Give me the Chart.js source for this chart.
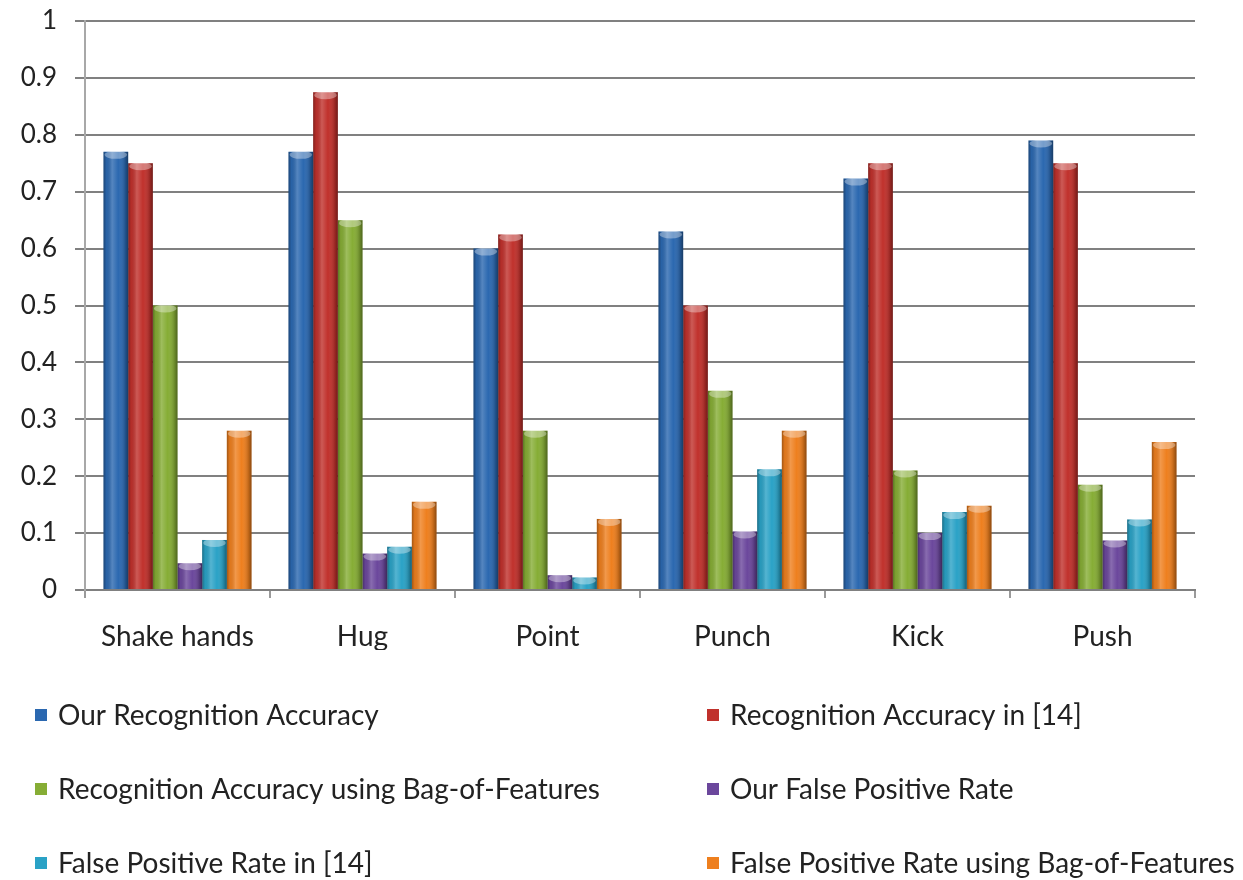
<!DOCTYPE html>
<html>
<head>
<meta charset="utf-8">
<script src="https://cdn.jsdelivr.net/npm/chart.js@4"></script>
<style>
  html, body { margin: 0; padding: 0; background: #ffffff; }
  #wrap { width: 1243px; height: 880px; }
</style>
</head>
<body>
<div id="wrap"><canvas id="c" width="1243" height="880"></canvas></div>
<script>
// Interaction classes
const categories = ['Shake hands', 'Hug', 'Point', 'Punch', 'Kick', 'Push'];

// Per-class scores
const ourAccuracy   = [0.77, 0.77, 0.60, 0.63, 0.723, 0.79];
const accuracyRef14 = [0.75, 0.875, 0.625, 0.50, 0.75, 0.75];
const accuracyBoF   = [0.50, 0.65, 0.28, 0.35, 0.21, 0.185];
const ourFPR        = [0.047, 0.064, 0.026, 0.103, 0.10, 0.087];
const fprRef14      = [0.088, 0.076, 0.022, 0.212, 0.137, 0.124];
const fprBoF        = [0.28, 0.155, 0.125, 0.28, 0.148, 0.26];

const seriesNames = [
  'Our Recognition Accuracy',
  'Recognition Accuracy in [14]',
  'Recognition Accuracy using Bag-of-Features',
  'Our False Positive Rate',
  'False Positive Rate in [14]',
  'False Positive Rate using Bag-of-Features'
];
const seriesValues = [ourAccuracy, accuracyRef14, accuracyBoF, ourFPR, fprRef14, fprBoF];
const seriesColors = ['#2b68b0', '#c0312c', '#86ad35', '#6b479c', '#2aa2c6', '#ee7f1e'];

const yTickLabels = ['0', '0.1', '0.2', '0.3', '0.4', '0.5', '0.6', '0.7', '0.8', '0.9', '1'];

const FONT = 'Lato, "Open Sans", sans-serif';
const TEXT = '#222222';

// Cylinder-like shading laid over each bar
const barShade = {
  id: 'barShade',
  afterDatasetsDraw(chart) {
    const ctx = chart.ctx;
    chart.data.datasets.forEach((ds, i) => {
      const meta = chart.getDatasetMeta(i);
      meta.data.forEach(bar => {
        const { x, y, base, width } = bar.getProps(['x', 'y', 'base', 'width'], true);
        const l = x - width / 2, r = x + width / 2;
        const g = ctx.createLinearGradient(l, 0, r, 0);
        g.addColorStop(0, 'rgba(0,0,0,0.32)');
        g.addColorStop(0.12, 'rgba(0,0,0,0.06)');
        g.addColorStop(0.35, 'rgba(255,255,255,0.20)');
        g.addColorStop(0.6, 'rgba(255,255,255,0.0)');
        g.addColorStop(0.88, 'rgba(0,0,0,0.20)');
        g.addColorStop(1, 'rgba(0,0,0,0.42)');
        ctx.save();
        ctx.fillStyle = g;
        ctx.fillRect(l, y, width, base - y);
        // light cap on top
        ctx.beginPath();
        ctx.ellipse(x, y + 3, width / 2 - 1, 4, 0, 0, Math.PI * 2);
        ctx.fillStyle = 'rgba(255,255,255,0.35)';
        ctx.fill();
        ctx.restore();
      });
    });
  }
};

// Two-column legend below the axis
const gridLegend = {
  id: 'gridLegend',
  afterDraw(chart) {
    const ctx = chart.ctx;
    const cols = [35, 707];
    const rowTop = 716, rowGap = 74;
    ctx.save();
    ctx.font = '28px ' + FONT;
    ctx.textBaseline = 'middle';
    ctx.textAlign = 'left';
    chart.data.datasets.forEach((ds, i) => {
      const cx = cols[i % 2];
      const cy = rowTop + Math.floor(i / 2) * rowGap;
      ctx.fillStyle = ds.backgroundColor;
      ctx.fillRect(cx, cy - 7, 12, 12);
      ctx.fillStyle = TEXT;
      ctx.fillText(ds.label, cx + 23, cy);
    });
    ctx.restore();
  }
};

new Chart(document.getElementById('c'), {
  type: 'bar',
  data: {
    labels: categories,
    datasets: seriesNames.map((name, i) => ({
      label: name,
      data: seriesValues[i],
      backgroundColor: seriesColors[i],
      borderWidth: 0,
      barPercentage: 1.0,
      categoryPercentage: 0.8
    }))
  },
  options: {
    responsive: false,
    animation: false,
    layout: { padding: { left: 0, top: 21, right: 48, bottom: 230 } },
    plugins: {
      legend: { display: false },
      tooltip: { enabled: false }
    },
    scales: {
      x: {
        afterFit(scale) { scale.height = 60; scale.paddingLeft = 0; scale.paddingRight = 0; },
        grid: {
          display: true,
          offset: true,
          drawOnChartArea: false,
          drawTicks: true,
          tickLength: 8,
          color: '#9a9a9a',
          lineWidth: 2
        },
        border: { display: true, color: '#808080', width: 2 },
        ticks: {
          color: TEXT,
          font: { family: FONT, size: 28 },
          padding: 22,
          maxRotation: 0
        }
      },
      y: {
        min: 0,
        max: 1,
        afterFit(scale) { scale.width = 85; scale.paddingTop = 0; scale.paddingBottom = 0; },
        grid: {
          color: '#808080',
          lineWidth: 2,
          drawTicks: true,
          tickLength: 10
        },
        border: { display: true, color: '#a8a8a8', width: 2 },
        ticks: {
          stepSize: 0.1,
          color: TEXT,
          font: { family: FONT, size: 26 },
          padding: 18,
          callback: (v, idx) => yTickLabels[idx]
        }
      }
    }
  },
  plugins: [barShade, gridLegend]
});
</script>
</body>
</html>
